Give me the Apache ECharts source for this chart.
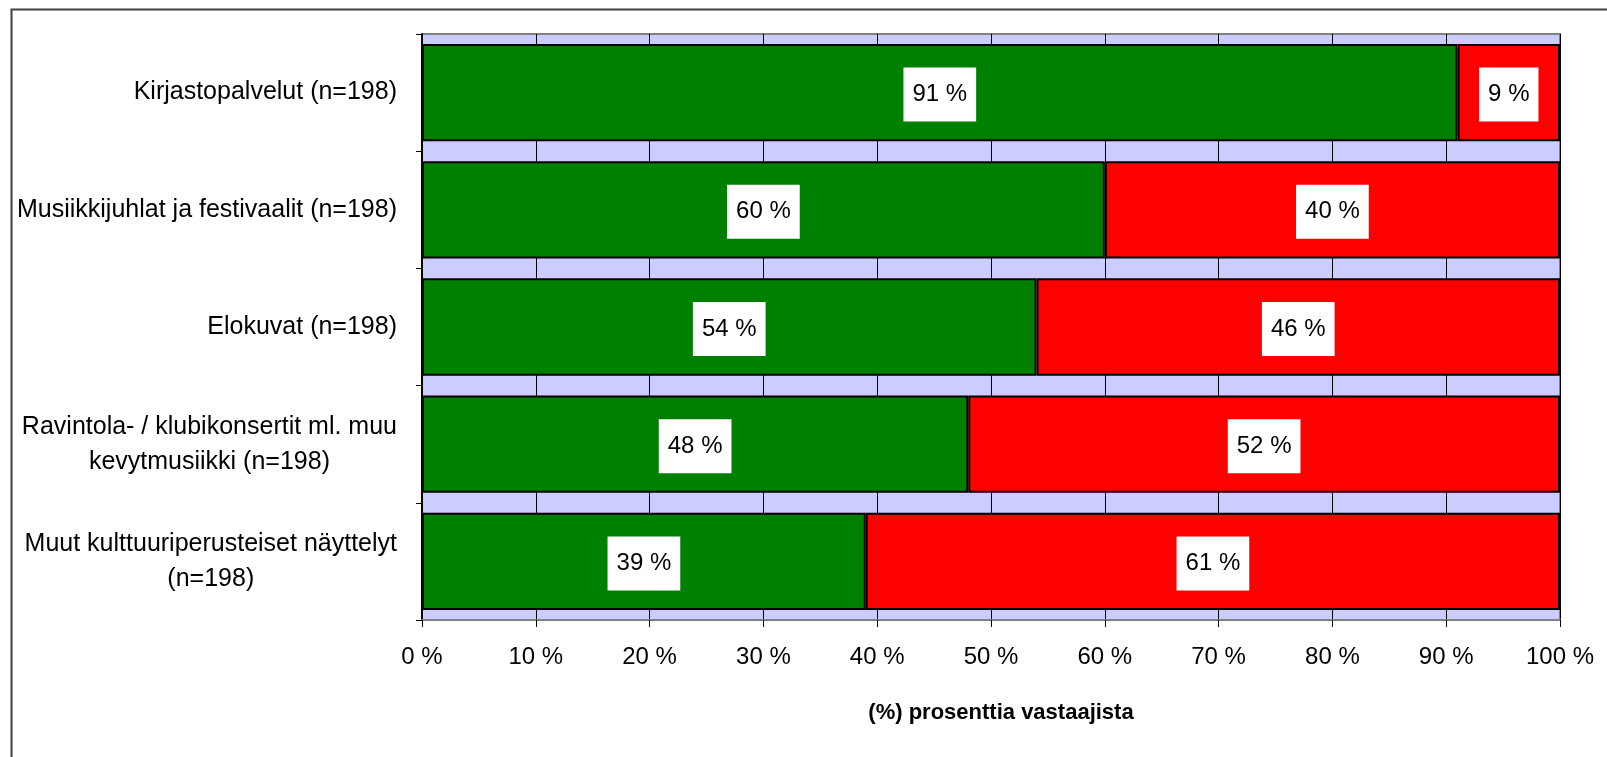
<!DOCTYPE html>
<html>
<head>
<meta charset="utf-8">
<script src="https://cdn.jsdelivr.net/npm/echarts@6/dist/echarts.min.js"></script>
<style>
  html, body { margin: 0; padding: 0; background: #ffffff; }
  #chart { width: 1607px; height: 757px; }
</style>
</head>
<body>
<div id="chart"></div>
<script>
const categories = [
  'Kirjastopalvelut (n=198)',
  'Musiikkijuhlat ja festivaalit (n=198)',
  'Elokuvat (n=198)',
  'Ravintola- / klubikonsertit ml. muu\nkevytmusiikki (n=198)',
  'Muut kulttuuriperusteiset näyttelyt\n(n=198)'
];
const yesValues = [91, 60, 54, 48, 39];
const noValues = [9, 40, 46, 52, 61];
const xTicks = [0, 10, 20, 30, 40, 50, 60, 70, 80, 90, 100];
const axisTitle = '(%) prosenttia vastaajista';

const FONT = "'Liberation Sans', Arial, sans-serif";

const chart = echarts.init(document.getElementById('chart'), null, { renderer: 'canvas' });

const barLabel = {
  show: true,
  position: 'inside',
  formatter: '{c} %',
  color: '#000000',
  fontFamily: FONT,
  fontSize: 24,
  backgroundColor: '#ffffff',
  padding: [15, 9, 15, 9],
  offset: [0, 2]
};

chart.setOption({
  backgroundColor: '#ffffff',
  animation: false,
  graphic: [{
    type: 'rect',
    left: 9, top: 7,
    shape: { width: 1620, height: 770 },
    style: { fill: 'none', stroke: '#404040', lineWidth: 2 },
    silent: true, z: -10
  }],
  grid: {
    left: 422, right: 47, top: 34, bottom: 137,
    show: true,
    backgroundColor: '#CCCCFF',
    borderColor: '#808080',
    borderWidth: 2
  },
  xAxis: {
    type: 'value',
    min: xTicks[0],
    max: xTicks[xTicks.length - 1],
    interval: xTicks[1] - xTicks[0],
    name: axisTitle,
    nameLocation: 'middle',
    nameGap: 82,
    nameTextStyle: {
      fontFamily: FONT, fontSize: 22, fontWeight: 'bold', color: '#000000',
      padding: [0, 0, 0, 20]
    },
    axisLine: { show: true, lineStyle: { color: '#808080', width: 2 } },
    axisTick: { show: true, length: 7, lineStyle: { color: '#000000', width: 1 } },
    axisLabel: {
      formatter: '{value} %',
      fontFamily: FONT, fontSize: 24, color: '#000000', margin: 25
    },
    splitLine: { show: true, lineStyle: { color: '#000000', width: 1 } }
  },
  yAxis: {
    type: 'category',
    data: categories,
    inverse: true,
    axisLine: { show: true, lineStyle: { color: '#000000', width: 2 } },
    axisTick: { show: true, length: 6, lineStyle: { color: '#000000', width: 1 } },
    axisLabel: {
      fontFamily: FONT, fontSize: 25, color: '#000000', margin: 25,
      lineHeight: 35,
      align: 'right',
      formatter: function (v) {
        return v.split('\n').map(function (l) { return '{c|' + l + '}'; }).join('\n');
      },
      rich: {
        c: { align: 'center', fontFamily: FONT, fontSize: 25, color: '#000000', lineHeight: 35 }
      }
    },
    splitLine: { show: false }
  },
  series: [
    {
      name: 'Kyllä',
      type: 'bar',
      stack: 'total',
      data: yesValues,
      barCategoryGap: '17%',
      itemStyle: { color: '#008000', borderColor: '#000000', borderWidth: 2 },
      label: barLabel,
      z: 3
    },
    {
      name: 'Ei',
      type: 'bar',
      stack: 'total',
      data: noValues,
      barCategoryGap: '17%',
      itemStyle: { color: '#FF0000', borderColor: '#000000', borderWidth: 2 },
      label: barLabel,
      z: 3
    }
  ]
});
</script>
</body>
</html>
